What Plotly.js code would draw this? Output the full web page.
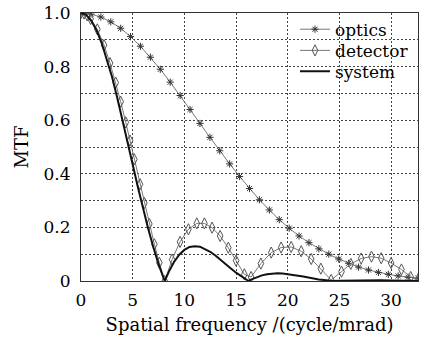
<!DOCTYPE html>
<html>
<head>
<meta charset="utf-8">
<script src="https://cdn.plot.ly/plotly-3.0.1.min.js"></script>
<style>html,body{margin:0;padding:0;background:#fff;}#chart{width:427px;height:337px;}</style>
</head>
<body>
<div id="chart"></div>
<script>
// Optics MTF (star markers)
const opticsX = [0,0.96,1.92,2.88,3.84,4.79,5.75,6.71,7.67,8.63,9.59,10.55,11.51,12.47,13.42,14.38,15.34,16.30,17.26,18.22,19.18,20.14,21.09,22.05,23.01,23.97,24.93,25.89,26.85,27.81,28.77,29.73,30.68,31.64,32.60];
const opticsY = [1.000,0.996,0.985,0.967,0.943,0.912,0.876,0.835,0.790,0.742,0.692,0.640,0.588,0.536,0.486,0.437,0.390,0.345,0.303,0.265,0.229,0.197,0.168,0.143,0.120,0.100,0.082,0.066,0.052,0.041,0.032,0.025,0.019,0.014,0.010];

// Detector MTF (diamond markers)
const detectorX = [0,0.3,0.6,0.93,1.58,2.23,2.81,3.36,3.84,4.33,4.74,5.16,5.71,6.13,6.61,7.1,7.58,8.1,8.81,9.58,10.39,11.2,11.94,12.68,13.46,14.25,15.0,15.8,16.45,17.4,18.4,19.36,20.33,21.3,22.27,23.2,24.2,25.2,26.1,27.1,28.1,29.04,30.0,31.0,31.9,32.6];
const detectorY = [1.000,0.998,0.991,0.978,0.939,0.880,0.813,0.740,0.669,0.592,0.524,0.454,0.361,0.291,0.213,0.137,0.068,0.000,0.080,0.146,0.193,0.215,0.215,0.199,0.168,0.124,0.076,0.025,0.015,0.065,0.106,0.125,0.127,0.111,0.082,0.046,0.004,0.035,0.064,0.084,0.091,0.085,0.067,0.043,0.015,0.006];

// System MTF (solid line)
const systemX = [0,0.5,1,1.5,2,2.5,3,3.5,4,4.5,5,5.5,6,6.5,7,7.5,8,8.1,8.5,9,9.5,10,10.5,11,11.5,12,12.5,13,13.5,14,14.5,15,15.5,16,16.2,16.5,17,17.5,18,18.5,19,19.5,20,20.5,21,21.5,22,22.5,23,23.5,24,24.3,25,26,27,28,29,30,31,32.4,32.6];
const systemY = [1.000,0.993,0.971,0.936,0.888,0.829,0.762,0.685,0.605,0.520,0.435,0.351,0.271,0.195,0.126,0.063,0.010,0.000,0.035,0.071,0.098,0.116,0.127,0.130,0.128,0.120,0.109,0.095,0.080,0.063,0.047,0.031,0.017,0.005,0.000,0.006,0.015,0.021,0.025,0.028,0.029,0.028,0.026,0.023,0.020,0.017,0.013,0.010,0.006,0.004,0.001,0.000,0.001,0.002,0.003,0.004,0.003,0.002,0.001,0.000,0.000];

const yTickVals = [0,0.2,0.4,0.6,0.8,1.0];
const yTickText = ['0','0.2','0.4','0.6','0.8','1.0'];
const yMinorVals = [0.1,0.3,0.5,0.7,0.9];

const serif = '"DejaVu Serif", "Liberation Serif", serif';
const gridC = '#444';
const gridDash = '2px,2px';

const traces = [
  {x: opticsX, y: opticsY, name: 'optics', type: 'scatter', mode: 'lines+markers', legend: 'legend',
   line: {color: '#777', width: 1},
   marker: {symbol: 'asterisk-open', size: 6, color: '#333', line: {color: '#333', width: 1}}},
  {x: detectorX, y: detectorY, name: 'detector', type: 'scatter', mode: 'lines+markers', legend: 'legend2',
   line: {color: '#777', width: 1},
   marker: {symbol: 'diamond-tall-open', size: 8, color: '#555', line: {color: '#555', width: 1}}},
  {x: systemX, y: systemY, name: 'system', type: 'scatter', mode: 'lines', legend: 'legend3',
   line: {color: '#111', width: 2}}
];

const legendBase = {x: 0.635, xanchor: 'left', yanchor: 'top', bgcolor: 'rgba(0,0,0,0)', borderwidth: 0,
                    font: {family: serif, size: 17, color: '#000'}};

const layout = {
  width: 427, height: 337,
  margin: {l: 81, r: 9, t: 13, b: 56},
  paper_bgcolor: '#fff', plot_bgcolor: '#fff',
  font: {family: serif, size: 16, color: '#000'},
  showlegend: true,
  legend: Object.assign({}, legendBase, {y: 1.005}),
  legend2: Object.assign({}, legendBase, {y: 0.926}),
  legend3: Object.assign({}, legendBase, {y: 0.848}),
  shapes: [{type: 'rect', xref: 'paper', yref: 'paper', x0: 0.644, x1: 1, y0: 0.735, y1: 1,
            layer: 'between', fillcolor: '#fff', line: {width: 0}}],
  xaxis: {range: [0, 32.6], tick0: 0, dtick: 5, showgrid: true, griddash: gridDash,
          gridcolor: gridC, gridwidth: 1, zeroline: false, showline: true, mirror: true,
          linecolor: '#333', linewidth: 1, ticks: '', ticklabelstandoff: 4,
          tickfont: {family: serif, size: 17, color: '#000'},
          title: {text: 'Spatial frequency /(cycle/mrad)', standoff: 8,
                  font: {family: serif, size: 18, color: '#000'}}},
  yaxis: {range: [0, 1], tickvals: yTickVals, ticktext: yTickText, showgrid: true,
          griddash: gridDash, gridcolor: gridC, gridwidth: 1, zeroline: false,
          showline: true, mirror: true, linecolor: '#333', linewidth: 1, ticks: '',
          ticklabelstandoff: 6,
          minor: {tickvals: yMinorVals, showgrid: true, griddash: gridDash, gridcolor: gridC, gridwidth: 1, ticks: ''},
          tickfont: {family: serif, size: 17, color: '#000'},
          title: {text: 'MTF', standoff: 10, font: {family: serif, size: 18, color: '#000'}}}
};

Plotly.newPlot('chart', traces, layout, {displayModeBar: false, staticPlot: true});
</script>
</body>
</html>
